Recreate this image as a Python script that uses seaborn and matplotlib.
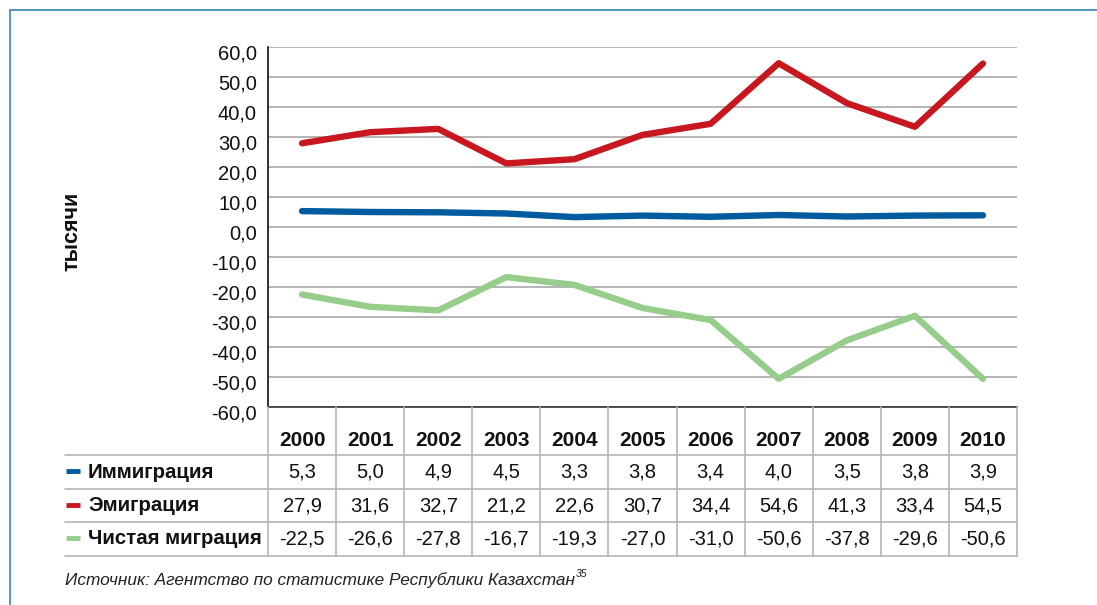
import matplotlib
matplotlib.use("Agg")
import matplotlib.pyplot as plt
import matplotlib.transforms as mtransforms
import seaborn as sns
import pandas as pd
import numpy as np

years = [2000, 2001, 2002, 2003, 2004, 2005, 2006, 2007, 2008, 2009, 2010]
immigration = [5.3, 5.0, 4.9, 4.5, 3.3, 3.8, 3.4, 4.0, 3.5, 3.8, 3.9]
emigration = [27.9, 31.6, 32.7, 21.2, 22.6, 30.7, 34.4, 54.6, 41.3, 33.4, 54.5]
net_migration = [-22.5, -26.6, -27.8, -16.7, -19.3, -27.0, -31.0, -50.6, -37.8, -29.6, -50.6]
series_names = ["Иммиграция", "Эмиграция", "Чистая миграция"]
series_values = [immigration, emigration, net_migration]
colors = ["#005b9f", "#c8171e", "#96cd8a"]
y_ticks = [60, 50, 40, 30, 20, 10, 0, -10, -20, -30, -40, -50, -60]
y_label = "тысячи"
source = "Источник: Агентство по статистике Республики Казахстан"
source_sup = "35"

sns.set_theme(style="white")
plt.rcParams['font.family'] = ['Liberation Sans', 'DejaVu Sans']

W, H = 1097, 605
fig = plt.figure(figsize=(W / 100, H / 100), dpi=100)

# main plot area (pixel coordinates converted to figure fractions)
left, right, top, bottom = 268, 1017, 47, 407
ax = fig.add_axes([left / W, 1 - bottom / H, (right - left) / W, (bottom - top) / H])

rows = []
for name, vals in zip(series_names, series_values):
    for i, v in enumerate(vals):
        rows.append({"idx": i, "value": v, "series": name})
df = pd.DataFrame(rows)

sns.lineplot(data=df, x="idx", y="value", hue="series", palette=colors,
             hue_order=series_names, linewidth=4.6, legend=False, ax=ax,
             solid_capstyle="round", solid_joinstyle="round")

ax.set_xlim(-0.5, len(years) - 0.5)
ax.set_ylim(-60, 60)
ax.set_yticks(y_ticks)
ax.set_yticklabels([f"{t:.1f}".replace(".", ",") for t in y_ticks], fontsize=14.5)
ax.tick_params(axis="y", length=0, pad=8, colors="#111111")
offset = mtransforms.ScaledTranslation(0, -5 / 100, fig.dpi_scale_trans)
for lab in ax.get_yticklabels():
    lab.set_transform(lab.get_transform() + offset)
ax.set_xticks([])
ax.set_xlabel("")
ax.set_ylabel("")
ax.yaxis.grid(True, color="#a8a8a8", linewidth=1.2)
ax.set_axisbelow(True)
for s in ["top", "right"]:
    ax.spines[s].set_visible(False)
ax.spines["left"].set_color("#111111")
ax.spines["left"].set_linewidth(1.2)
ax.spines["bottom"].set_color("#333333")
ax.spines["bottom"].set_linewidth(1.2)

fig.text(72 / W, 1 - 231 / H, y_label, rotation=90, ha="center", va="center",
         fontsize=15.5, fontweight="bold", color="#111111")

# overlay axes in pixel coordinates for table and frame
ov = fig.add_axes([0, 0, 1, 1], facecolor="none")
ov.set_xlim(0, W)
ov.set_ylim(H, 0)
ov.axis("off")

# frame
ov.plot([10, 10], [605, 10], color="#4a8fc4", lw=1.3, clip_on=False)
ov.plot([10, 1097], [10, 10], color="#4a8fc4", lw=1.3, clip_on=False)

# column centers from the main axis scale
col_w = (right - left) / len(years)
centers = [left + col_w * (i + 0.5) for i in range(len(years))]
edges = [left + col_w * i for i in range(len(years) + 1)]

row_lines = [455, 489, 522, 556]
grid_c = "#b5b5b5"
for y in row_lines:
    ov.plot([65, right], [y, y], color=grid_c, lw=1.2)
for x in edges:
    ov.plot([x, x], [bottom, row_lines[-1]], color=grid_c, lw=1.2)

for cx, yr in zip(centers, years):
    ov.text(cx, 440, str(yr), ha="center", va="center", fontsize=15,
            fontweight="bold", color="#111111")

row_centers = [(row_lines[i] + row_lines[i + 1]) / 2 for i in range(3)]
for rc, name, vals, c in zip(row_centers, series_names, series_values, colors):
    ov.plot([66, 80], [rc - 1, rc - 1], color=c, lw=3.5, solid_capstyle="butt")
    ov.text(88, rc, name, ha="left", va="center", fontsize=14.7,
            fontweight="bold", color="#111111")
    for cx, v in zip(centers, vals):
        ov.text(cx, rc, f"{v:.1f}".replace(".", ","), ha="center", va="center",
                fontsize=14.5, color="#111111")

t = ov.text(65, 585, source, ha="left", va="baseline", fontsize=12.4,
            style="italic", color="#222222")
fig.canvas.draw()
bb = t.get_window_extent()
inv = ov.transData.inverted()
x_end = inv.transform((bb.x1, bb.y0))[0]
ov.text(x_end + 1, 577, source_sup, ha="left", va="baseline", fontsize=7.5,
        style="italic", color="#222222")

fig.savefig("out.png", dpi=100)
